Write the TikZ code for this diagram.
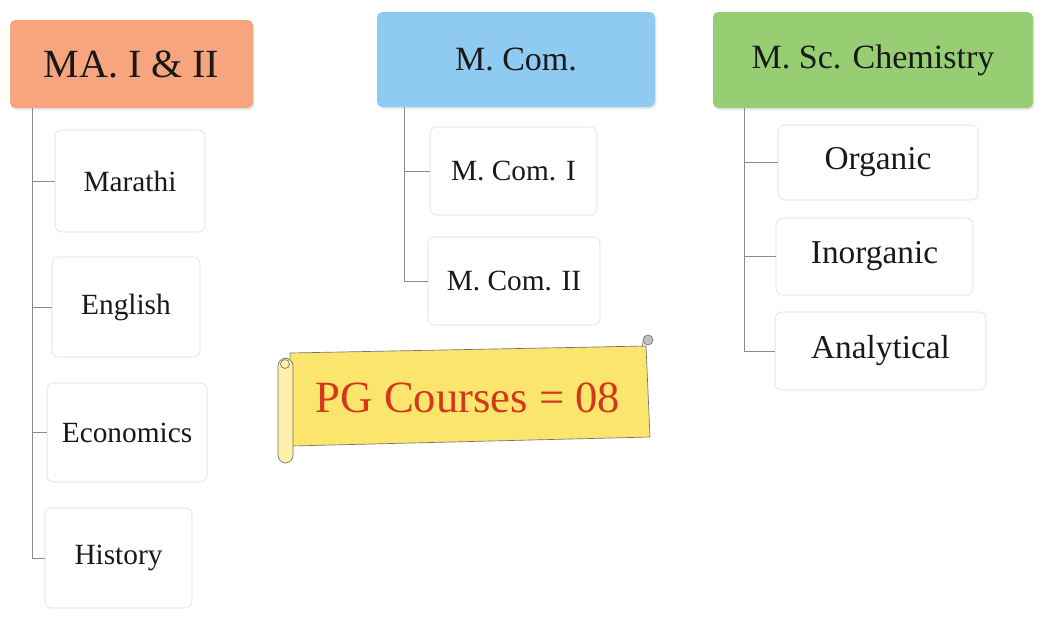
\documentclass[tikz,border=0pt]{standalone}
\usepackage{fontspec}
\setmainfont{Liberation Serif}
\usetikzlibrary{shadows}
\definecolor{maorange}{HTML}{F6A57F}
\definecolor{mcomblue}{HTML}{8FCBF0}
\definecolor{mscgreen}{HTML}{97CE74}
\definecolor{scrollyellow}{HTML}{FBE56C}
\definecolor{scrolllight}{HTML}{FDF0A8}
\definecolor{pgred}{HTML}{D3381C}

\begin{document}
\begin{tikzpicture}[x=0.75pt,y=-0.75pt,
  head/.style={rounded corners=4pt, inner sep=0pt, text=black!90, drop shadow={opacity=0.18, shadow xshift=1pt, shadow yshift=-1.5pt}},
  leaf/.style={draw=black!14, rounded corners=5pt, fill=white, inner sep=0pt, text=black!90},
  link/.style={draw=black!45, line width=0.6pt}]
\useasboundingbox[fill=white] (0,0) rectangle (1040,619);
% Drawing headers
\node[head, fill=maorange, minimum width=182.25pt, minimum height=66pt, font=\fontsize{30}{34}\selectfont] (ma) at (131.5,64) {MA. I \& II};
\node[head, fill=mcomblue, minimum width=208.5pt, minimum height=71.25pt, font=\fontsize{25.5}{30}\selectfont] (mcom) at (516,59.5) {M. Com.};
\node[head, fill=mscgreen, minimum width=240pt, minimum height=72pt, font=\fontsize{25.5}{30}\selectfont] (msc) at (873,60) {M. Sc. Chemistry};
% Done with headers; drawing leaves
% MA. I & II
\node[leaf, minimum width=112.5pt, minimum height=76.5pt, font=\fontsize{22}{26}\selectfont] (marathi) at (130,181) {Marathi};
\node[leaf, minimum width=111pt, minimum height=75pt, font=\fontsize{22}{26}\selectfont] (english) at (126,307) {English};
\node[leaf, minimum width=120pt, minimum height=74.25pt, font=\fontsize{22}{26}\selectfont] (economics) at (127,432.5) {Economics};
\node[leaf, minimum width=110.25pt, minimum height=75pt, font=\fontsize{22}{26}\selectfont] (history) at (118.5,558) {History};
% M. Com.
\node[leaf, minimum width=125.25pt, minimum height=66pt, font=\fontsize{22}{26}\selectfont] (mcomi) at (513.5,171) {M. Com. I};
\node[leaf, minimum width=129pt, minimum height=66pt, font=\fontsize{22}{26}\selectfont] (mcomii) at (514,281) {M. Com. II};
% M. Sc. Chemistry
\node[leaf, minimum width=150pt, minimum height=56.25pt, font=\fontsize{25}{29}\selectfont] (organic) at (878,162.5) {Organic};
\node[leaf, minimum width=147.75pt, minimum height=57.75pt, font=\fontsize{25}{29}\selectfont] (inorganic) at (874.5,256.5) {Inorganic};
\node[leaf, minimum width=158.25pt, minimum height=58.5pt, font=\fontsize{25}{29}\selectfont] (analytical) at (880.5,351) {Analytical};
% Done with leaves; drawing links
\coordinate (maroot) at (32,108);
\coordinate (mcomroot) at (404,107);
\coordinate (mscroot) at (744,108);
\draw[link] (maroot) |- (marathi.west);
\draw[link] (maroot) |- (english.west);
\draw[link] (maroot) |- (economics.west);
\draw[link] (maroot) |- (history.west);
\draw[link] (mcomroot) |- (mcomi.west);
\draw[link] (mcomroot) |- (mcomii.west);
\draw[link] (mscroot) |- (organic.west);
\draw[link] (mscroot) |- (inorganic.west);
\draw[link] (mscroot) |- (analytical.west);
% Done with links; drawing scroll
\filldraw[fill=scrollyellow, draw=black!55, line width=0.5pt] (290,353) -- (646,346) -- (650,437) -- (292,446) -- cycle;
\filldraw[fill=scrolllight, draw=black!55, line width=0.5pt, rounded corners=6pt] (278,358) rectangle (293,463);
\draw[black!55, line width=0.5pt] (285,364) circle (4.5);
\draw[black!55, line width=0.5pt] (642,347) -- (644,338);
\filldraw[fill=black!25, draw=black!55, line width=0.5pt] (648,340) circle (5);
\node[font=\fontsize{33.5}{38}\selectfont, text=pgred] (banner) at (468,398) {PG Courses = 08};
% Done with scroll
\end{tikzpicture}
\end{document}
